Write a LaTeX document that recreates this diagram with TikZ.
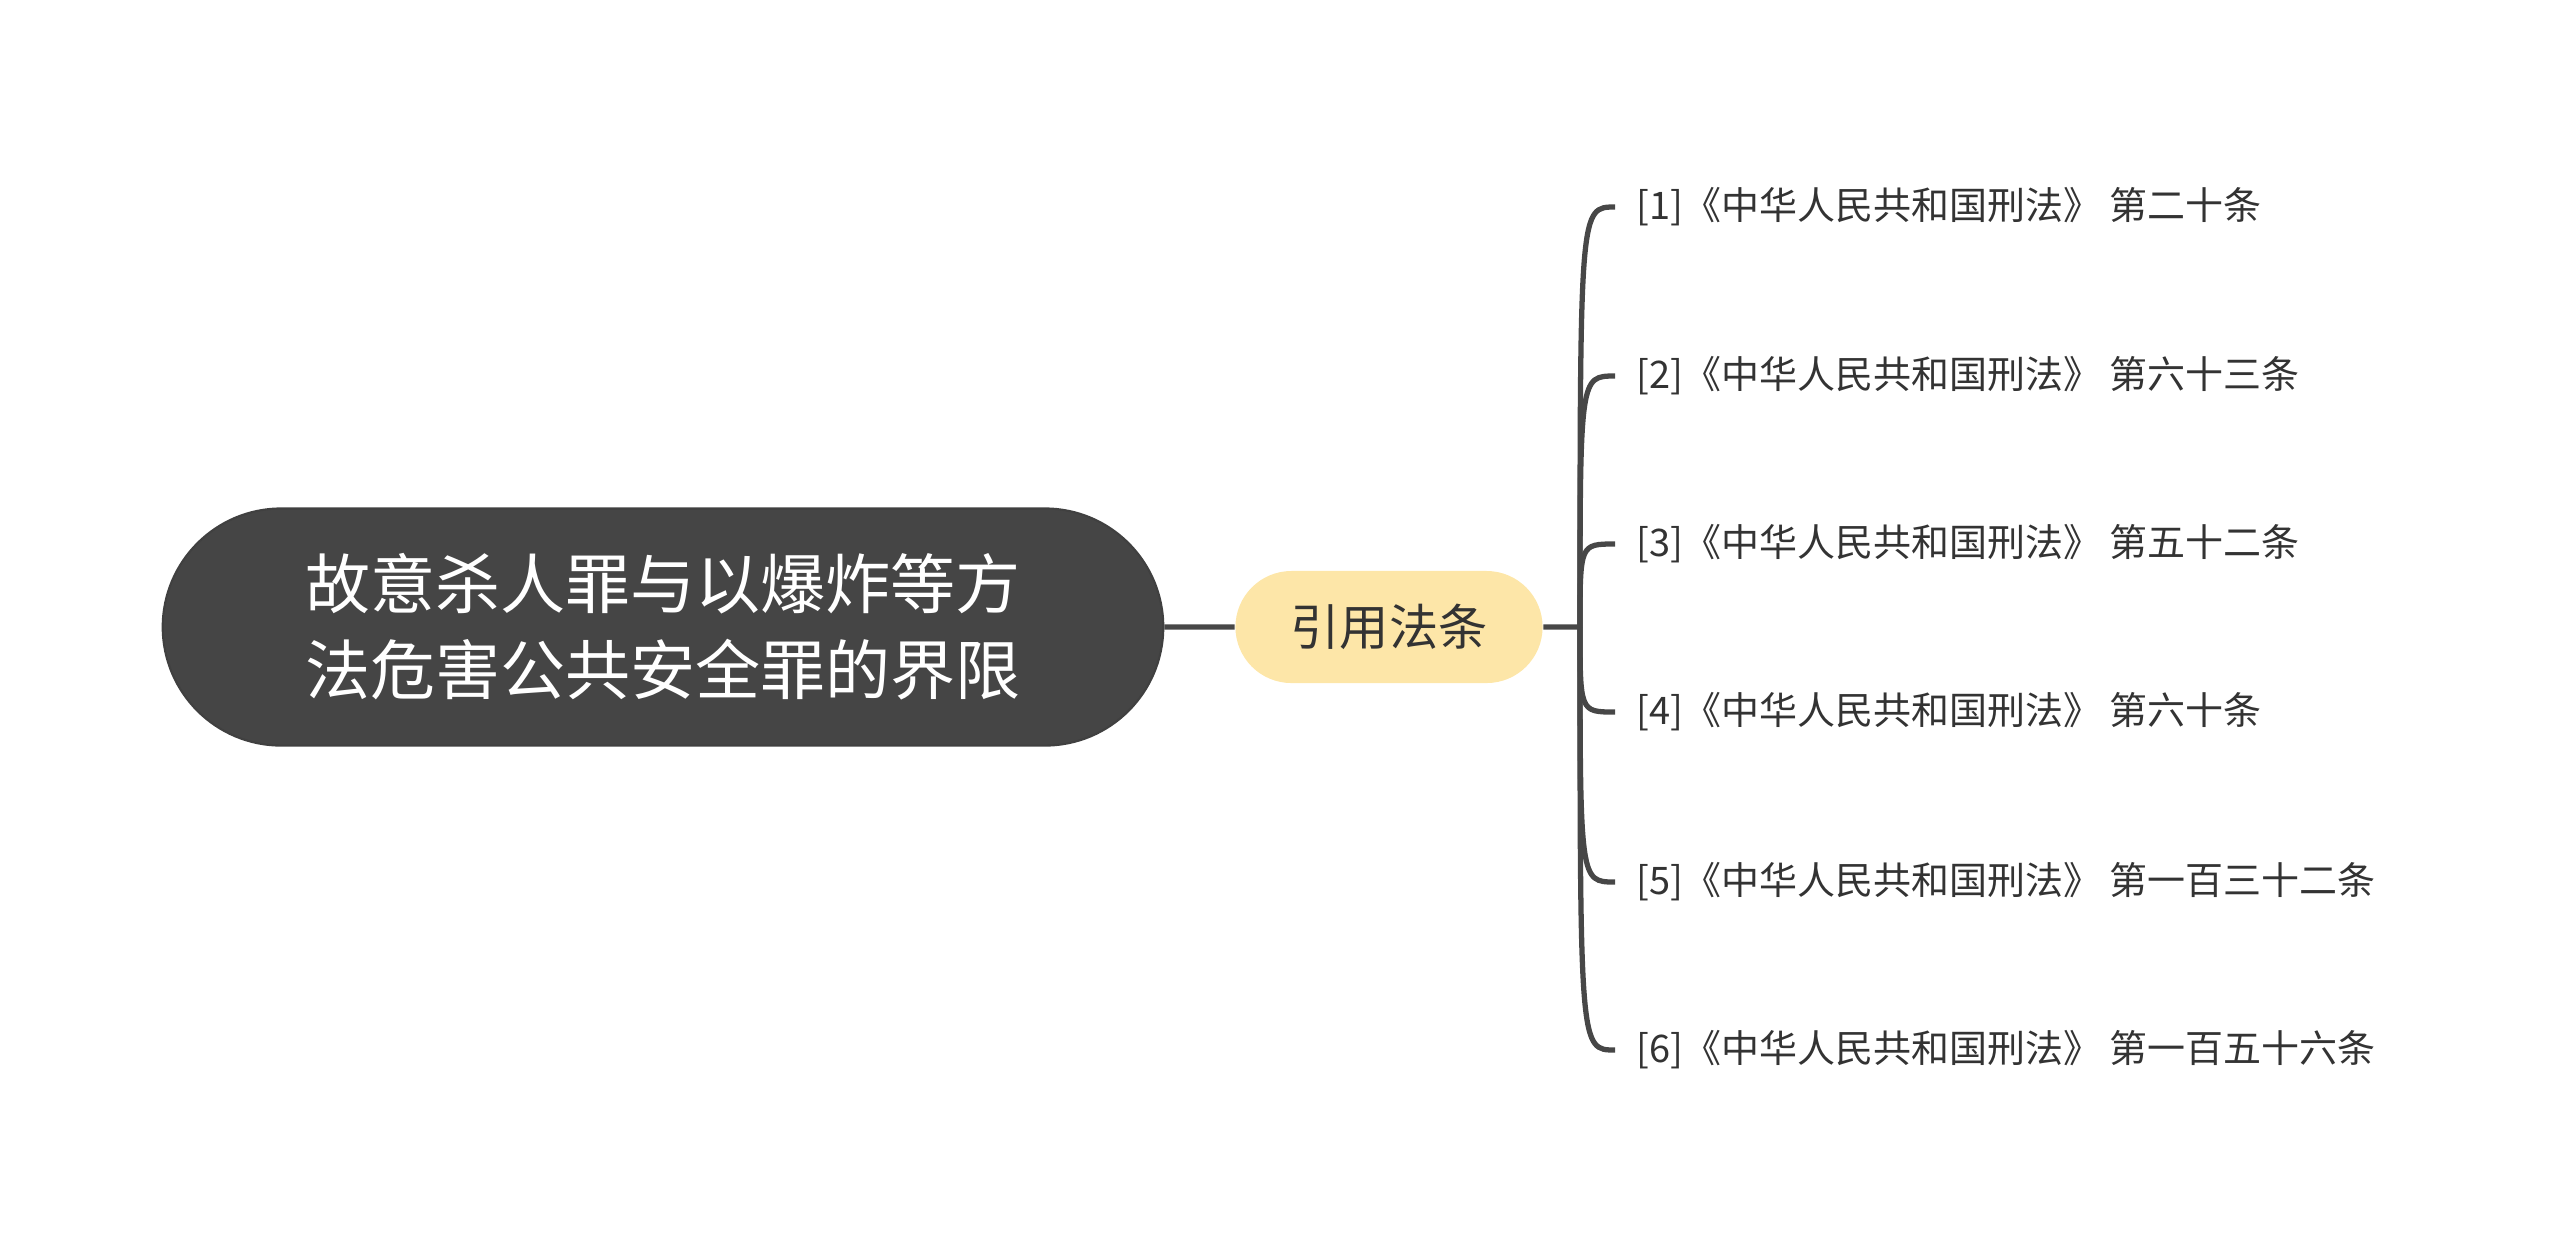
\documentclass[tikz,border=0pt]{standalone}
\usepackage{fontspec}
\setmainfont{Noto Sans CJK SC}
\usetikzlibrary{shapes.misc}
\definecolor{rootfill}{HTML}{454545}
\definecolor{linegray}{HTML}{474747}
\definecolor{topicfill}{HTML}{FDE6A8}
\definecolor{textgray}{HTML}{333333}
\begin{document}
\begin{tikzpicture}[
    x=0.01cm, y=-0.01cm,
    every node/.style={inner sep=0pt},
    rootbox/.style={rounded rectangle, fill=rootfill, draw=black!75, line width=0.6pt,
        minimum width=10cm, minimum height=2.37cm, text=white, align=center,
        font=\fontsize{18.5}{24.5}\selectfont},
    topicbox/.style={rounded rectangle, fill=topicfill, minimum width=3.07cm,
        minimum height=1.12cm, text=textgray, font=\fontsize{14}{17}\selectfont},
    leaf/.style={anchor=west, inner xsep=0.21cm, text=textgray,
        font=\fontsize{10.8}{13}\selectfont},
    link/.style={draw=linegray, line width=1.5pt}
]
\useasboundingbox (0,0) rectangle (2560,1256);

% Root
\node[rootbox] (root) at (663,627) {故意杀人罪与以爆炸等方\\法危害公共安全罪的界限};

% Topic
\node[topicbox] (laws) at (1389,627) {引用法条};
\coordinate (fork) at (1580,627);

% Leaves
\node[leaf] (l1) at (1615,207) {[1]《中华人民共和国刑法》 第二十条};
\node[leaf] (l2) at (1615,376) {[2]《中华人民共和国刑法》 第六十三条};
\node[leaf] (l3) at (1615,544) {[3]《中华人民共和国刑法》 第五十二条};
\node[leaf] (l4) at (1615,712) {[4]《中华人民共和国刑法》 第六十条};
\node[leaf] (l5) at (1615,882) {[5]《中华人民共和国刑法》 第一百三十二条};
\node[leaf] (l6) at (1615,1050) {[6]《中华人民共和国刑法》 第一百五十六条};

% Edges
\draw[link] (root) -- (laws);
\draw[link] (laws) -- (fork);
\foreach \i in {1,...,6}
  \draw[link] (fork) .. controls (fork |- l\i.west) .. (l\i.west);

\end{tikzpicture}
\end{document}
